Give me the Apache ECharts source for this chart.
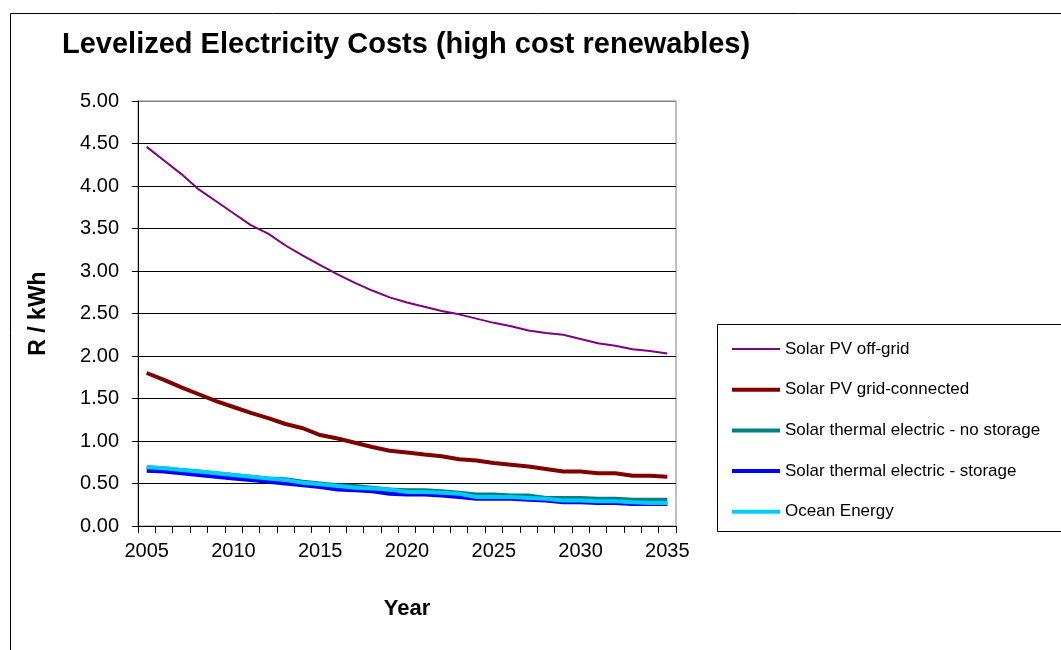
<!DOCTYPE html>
<html>
<head>
<meta charset="utf-8">
<script src="https://cdn.jsdelivr.net/npm/echarts@6/dist/echarts.min.js"></script>
<style>
html,body{margin:0;padding:0;background:#fff;}
#chart{width:1061px;height:650px;}
</style>
</head>
<body>
<div id="chart"></div>
<script>
const years = ['2005','2006','2007','2008','2009','2010','2011','2012','2013','2014','2015','2016','2017','2018','2019','2020','2021','2022','2023','2024','2025','2026','2027','2028','2029','2030','2031','2032','2033','2034','2035'];

const pvOffGrid = [4.46,4.30,4.14,3.96,3.82,3.68,3.54,3.44,3.30,3.18,3.07,2.96,2.86,2.77,2.69,2.63,2.58,2.53,2.49,2.44,2.39,2.35,2.30,2.27,2.25,2.20,2.15,2.12,2.08,2.06,2.03];
const pvGrid = [1.80,1.72,1.63,1.55,1.47,1.40,1.33,1.27,1.20,1.15,1.07,1.03,0.98,0.93,0.885,0.865,0.84,0.82,0.785,0.77,0.74,0.72,0.70,0.67,0.64,0.64,0.62,0.62,0.59,0.59,0.58];
const thermalNoStorage = [0.69,0.68,0.66,0.64,0.62,0.60,0.58,0.56,0.55,0.52,0.50,0.48,0.47,0.45,0.43,0.42,0.42,0.41,0.39,0.37,0.37,0.36,0.36,0.33,0.33,0.33,0.32,0.32,0.31,0.31,0.31];
const thermalStorage = [0.65,0.64,0.62,0.60,0.58,0.56,0.54,0.52,0.50,0.48,0.46,0.43,0.42,0.41,0.38,0.37,0.37,0.36,0.34,0.32,0.32,0.32,0.31,0.30,0.28,0.28,0.27,0.27,0.26,0.26,0.26];
const ocean = [0.69,0.68,0.66,0.64,0.62,0.60,0.58,0.56,0.54,0.51,0.49,0.47,0.45,0.44,0.43,0.40,0.40,0.39,0.38,0.34,0.34,0.34,0.33,0.32,0.30,0.30,0.29,0.29,0.28,0.27,0.27];

const seriesNames = ['Solar PV off-grid','Solar PV grid-connected','Solar thermal electric - no storage','Solar thermal electric - storage','Ocean Energy'];
const seriesData = [pvOffGrid, pvGrid, thermalNoStorage, thermalStorage, ocean];
const seriesColors = ['#800080','#800000','#008080','#0000FF','#00CCFF'];
const seriesWidths = [2,4,4,4,4];

const FONT = '"Liberation Sans", Arial, sans-serif';

const chart = echarts.init(document.getElementById('chart'), null, {renderer:'canvas'});

const splitColors = [];
for (let i = 0; i < 10; i++) splitColors.push('#000000');
splitColors.push('#808080');

chart.setOption({
  animation: false,
  backgroundColor: '#ffffff',
  textStyle: {fontFamily: FONT},
  title: {
    text: 'Levelized Electricity Costs (high cost renewables)',
    left: 57, top: 25,
    textStyle: {fontFamily: FONT, fontSize: 29, fontWeight: 'bold', color: '#000'}
  },
  graphic: [
    {type:'rect', z:-10, silent:true, shape:{x:10.5, y:13.5, width:1080, height:700}, style:{fill:'none', stroke:'#000', lineWidth:1}},
    {type:'rect', z:-10, silent:true, shape:{x:717.5, y:324.5, width:400, height:207}, style:{fill:'#fff', stroke:'#000', lineWidth:1}}
  ],
  legend: {
    orient: 'vertical',
    left: 730, top: 339,
    padding: 0,
    itemWidth: 48, itemHeight: 14,
    itemGap: 20.7,
    itemStyle: {opacity: 0},
    lineStyle: {width: 'inherit'},
    textStyle: {fontFamily: FONT, fontSize: 17, color: '#000', lineHeight: 20},
    data: seriesNames
  },
  grid: {
    left: 138, right: 385, top: 101, bottom: 124,
    show: true, borderColor: '#808080', borderWidth: 1, backgroundColor: '#fff'
  },
  xAxis: {
    type: 'category',
    data: years,
    boundaryGap: true,
    name: 'Year',
    nameLocation: 'middle',
    nameGap: 72,
    nameTextStyle: {fontFamily: FONT, fontSize: 22, fontWeight: 'bold', color: '#000'},
    axisLine: {show: true, lineStyle: {color: '#000', width: 1}},
    axisTick: {show: true, interval: 0, alignWithLabel: false, length: 7, lineStyle: {color: '#000'}},
    axisLabel: {interval: 4, margin: 15, fontFamily: FONT, fontSize: 20, color: '#000'},
    splitLine: {show: false}
  },
  yAxis: {
    type: 'value',
    min: 0, max: 5, interval: 0.5,
    name: 'R / kWh',
    nameLocation: 'middle',
    nameGap: 88,
    nameRotate: 90,
    nameTextStyle: {fontFamily: FONT, fontSize: 23, fontWeight: 'bold', color: '#000'},
    axisLine: {show: true, lineStyle: {color: '#000', width: 1}},
    axisTick: {show: true, length: 6, lineStyle: {color: '#000'}},
    axisLabel: {margin: 19, fontFamily: FONT, fontSize: 20, color: '#000', formatter: v => v.toFixed(2)},
    splitLine: {show: true, lineStyle: {color: splitColors, width: 1}}
  },
  series: seriesNames.map((n, i) => ({
    name: n,
    type: 'line',
    data: seriesData[i],
    symbol: 'none',
    smooth: false,
    lineStyle: {color: seriesColors[i], width: seriesWidths[i]},
    itemStyle: {color: seriesColors[i]},
    z: 2 + i
  }))
});
</script>
</body>
</html>
